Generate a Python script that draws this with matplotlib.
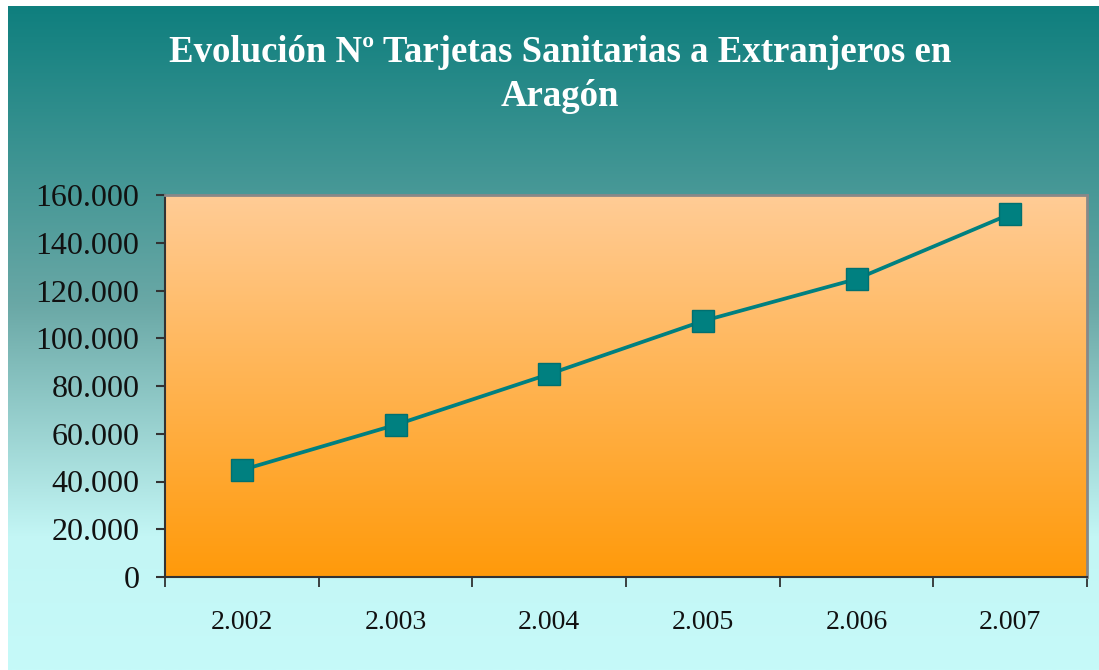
import matplotlib.pyplot as plt
import numpy as np
from matplotlib.colors import LinearSegmentedColormap
from matplotlib.ticker import FuncFormatter, FixedLocator

# Datos
anios = ["2.002", "2.003", "2.004", "2.005", "2.006", "2.007"]
tarjetas = [44800, 63700, 85000, 107200, 124800, 152000]

titulo_1 = "Evolución Nº Tarjetas Sanitarias a Extranjeros en"
titulo_2 = "Aragón"

W, H = 1099, 670
fig = plt.figure(figsize=(W / 100, H / 100), dpi=100)
fig.patch.set_facecolor("white")

# fila 0 = arriba
grad = np.linspace(0, 1, 256).reshape(-1, 1)

# Fondo degradado (verde azulado -> cian claro)
bg = fig.add_axes([8 / W, 0, 1 - 8 / W, (H - 6) / H])
bg.set_axis_off()
fondo = LinearSegmentedColormap.from_list(
    "fondo", [(0, "#0f7f7e"), (0.45, "#6aa8a6"), (0.8, "#c3f6f5"), (1, "#c6faf9")])
bg.imshow(grad, cmap=fondo, aspect="auto", origin="upper")

# Área del gráfico
x0, x1, ytop, ybot = 165, 1087, 195, 577
ax = fig.add_axes([x0 / W, (H - ybot) / H, (x1 - x0) / W, (ybot - ytop) / H])
naranja = LinearSegmentedColormap.from_list("naranja", ["#ffcc96", "#ff9a0a"])
ax.imshow(grad[::-1], cmap=naranja, aspect="auto", origin="lower",
          extent=[-0.5, 5.5, 0, 160000], zorder=0)

x = np.arange(len(anios))
ax.plot(x, tarjetas, color="#008080", lw=2.7, marker="s", markersize=16,
        markerfacecolor="#008080", markeredgecolor="#007070", zorder=3)

ax.set_xlim(-0.5, 5.5)
ax.set_ylim(0, 160000)
ax.set_yticks(np.arange(0, 160001, 20000))
ax.yaxis.set_major_formatter(FuncFormatter(lambda v, p: f"{int(v):,}".replace(",", ".")))
ax.set_xticks(x)
ax.set_xticklabels(anios)
ax.xaxis.set_minor_locator(FixedLocator(np.arange(-0.5, 6, 1)))

fuente = "Liberation Serif"
ax.tick_params(axis="x", which="major", length=0, pad=24, labelsize=20)
ax.tick_params(axis="x", which="minor", length=7, width=1.2, color="#222222")
ax.tick_params(axis="y", length=6.5, width=1.5, color="#333333", pad=12, labelsize=23)
for lab in ax.get_xticklabels() + ax.get_yticklabels():
    lab.set_fontfamily(fuente)
    lab.set_color("#111111")

for s in ["left", "bottom"]:
    ax.spines[s].set_color("#333333")
    ax.spines[s].set_linewidth(1.5)
for s in ["top", "right"]:
    ax.spines[s].set_color("#888888")
    ax.spines[s].set_linewidth(2)

fig.text(560 / W, 1 - 52 / H, titulo_1, ha="center", va="center", color="white",
         fontsize=26.5, fontweight="bold", fontfamily=fuente)
fig.text(560 / W, 1 - 97 / H, titulo_2, ha="center", va="center", color="white",
         fontsize=26.5, fontweight="bold", fontfamily=fuente)

fig.savefig("out.png", dpi=100)
